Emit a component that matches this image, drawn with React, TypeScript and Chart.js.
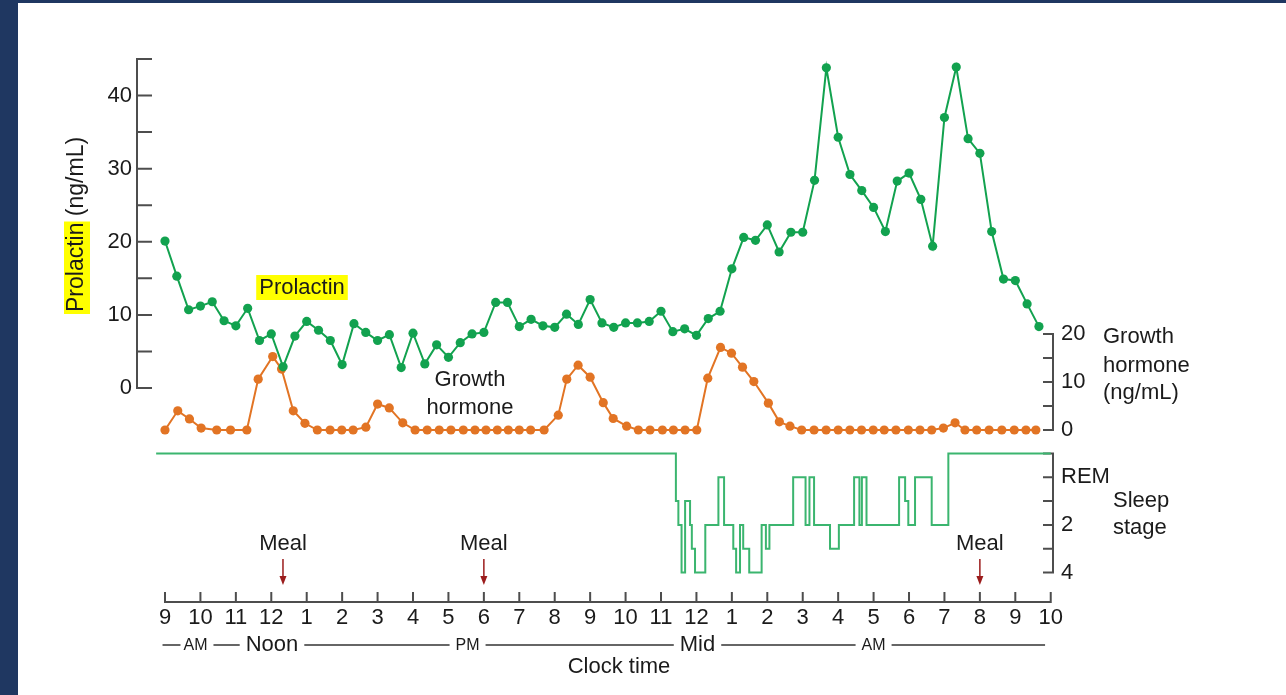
import React, { useEffect, useRef } from 'react';
import { Chart, registerables } from 'chart.js';

Chart.register(...registerables);

// ---------------- data ----------------
const X_TICK_LABELS = ['9', '10', '11', '12', '1', '2', '3', '4', '5', '6', '7', '8', '9', '10', '11', '12', '1', '2', '3', '4', '5', '6', '7', '8', '9', '10'];
const X_FIRST_HOUR = 9; // 9 AM, hours counted from midnight of day 1

// Prolactin sampled every 20 min from 9 AM
const PROLACTIN_START_HOUR = 9;
const PROLACTIN_STEP_HOURS = 1 / 3;
const PROLACTIN = [20.1, 15.3, 10.7, 11.2, 11.8, 9.2, 8.5, 10.9, 6.5, 7.4, 2.9, 7.1, 9.1, 7.9, 6.5, 3.2, 8.8, 7.6, 6.5, 7.3, 2.8, 7.5, 3.3, 5.9, 4.2, 6.2, 7.4, 7.6, 11.7, 11.7, 8.4, 9.4, 8.5, 8.3, 10.1, 8.7, 12.1, 8.9, 8.3, 8.9, 8.9, 9.1, 10.5, 7.7, 8.1, 7.2, 9.5, 10.5, 16.3, 20.6, 20.2, 22.3, 18.6, 21.3, 21.3, 28.4, 43.8, 34.3, 29.2, 27.0, 24.7, 21.4, 28.3, 29.4, 25.8, 19.4, 37.0, 43.9, 34.1, 32.1, 21.4, 14.9, 14.7, 11.5, 8.4];

const GH_TIMES = [9.00, 9.36, 9.69, 10.02, 10.46, 10.85, 11.31, 11.63, 12.04, 12.29, 12.62, 12.95, 13.30, 13.66, 13.99, 14.31, 14.67, 15.00, 15.33, 15.71, 16.06, 16.40, 16.74, 17.07, 17.42, 17.75, 18.06, 18.38, 18.69, 19.00, 19.32, 19.70, 20.10, 20.34, 20.66, 21.00, 21.37, 21.65, 22.03, 22.36, 22.69, 23.04, 23.35, 23.68, 24.01, 24.32, 24.68, 24.99, 25.30, 25.62, 26.03, 26.34, 26.64, 26.97, 27.32, 27.66, 28.00, 28.33, 28.66, 28.99, 29.30, 29.63, 29.98, 30.31, 30.64, 30.97, 31.30, 31.58, 31.91, 32.26, 32.62, 32.97, 33.30, 33.58];
const GH_VALUES = [0, 4.0, 2.3, 0.4, 0, 0, 0, 10.6, 15.3, 12.7,
  4.0, 1.4, 0, 0, 0, 0, 0.6, 5.4, 4.6, 1.5,
  0, 0, 0, 0, 0, 0, 0, 0, 0, 0,
  0, 0, 3.1, 10.6, 13.5, 11.0, 5.7, 2.4, 0.8, 0,
  0, 0, 0, 0, 0, 10.8, 17.2, 16.0, 13.1, 10.1,
  5.6, 1.7, 0.8, 0, 0, 0, 0, 0, 0, 0,
  0, 0, 0, 0, 0, 0.4, 1.5, 0, 0, 0,
  0, 0, 0, 0];

// Sleep stage: each stage holds from its time until the next time
const SLEEP_TIMES = [8.75, 23.42, 23.49, 23.58, 23.68, 23.82, 23.87, 23.96, 24.25, 24.62, 24.78, 25.04, 25.12, 25.23, 25.32, 25.49, 25.84, 25.96, 26.06, 26.73, 27.08, 27.19, 27.32, 27.77, 28.02, 28.45, 28.60, 28.67, 28.80, 29.72, 29.89, 29.98, 30.17, 30.64, 31.11, 34.0];
const SLEEP_STAGES = ['W', '1', '2', '4', '1', '2', '3', '4', '2', 'REM', '2', '3', '4', '2', '3', '4', '2', '3', '2', 'REM', '2', 'REM', '2', '3', '2', 'REM', '2', 'REM', '2', 'REM', '1', '2', 'REM', '2', 'W', 'W'];
const STAGE_ORDER = ['W', 'REM', '1', '2', '3', '4'];
const STAGE_TICK_LABELS = ['', 'REM', '', '2', '', '4'];

const PROLACTIN_TICKS = [0, 5, 10, 15, 20, 25, 30, 35, 40, 45];
const GH_TICKS = [0, 5, 10, 15, 20];

const MEAL_HOURS = [12.33, 18, 32];
const PERIOD_TEXT = ['AM', 'Noon', 'PM', 'Mid', 'AM'];
const PERIOD_HOURS = [9.86, 12.02, 17.54, 24.03, 29.0];

// ---------------- style ----------------
const FONT = "'Liberation Sans', Arial, Helvetica, sans-serif";
const TEXT = '#1b1b1b';
const AXIS = '#4d4d4d';
const GREEN = '#12a24f';
const ORANGE = '#e27424';
const SLEEP_GREEN = '#3bb56f';
const NAVY = '#1f3761';
const MEAL_RED = '#9b1c1c';

const stageValue = (s: string) => STAGE_ORDER.indexOf(s) - 1; // W=-1, REM=0, 1..4

const decorPlugin = {
  id: 'decor',
  beforeDatasetsDraw(chart: any) {
    const { ctx, chartArea } = chart;
    const sx = chart.scales.x;
    const sp = chart.scales.yP;
    const sg = chart.scales.yGH;
    const ss = chart.scales.yS;
    ctx.save();
    ctx.strokeStyle = AXIS;
    ctx.lineWidth = 2;
    ctx.lineCap = 'butt';

    // left prolactin axis, ticks pointing inward
    const lx = chartArea.left;
    const pp = sp.ticks.map((t: any) => sp.getPixelForValue(t.value));
    ctx.beginPath();
    ctx.moveTo(lx, Math.max(...pp) + 1);
    ctx.lineTo(lx, Math.min(...pp) - 1);
    pp.forEach((p: number) => { ctx.moveTo(lx, p); ctx.lineTo(lx + 15, p); });
    ctx.stroke();

    // right GH axis
    const rx = chartArea.right;
    const gp = sg.ticks.map((t: any) => sg.getPixelForValue(t.value));
    ctx.beginPath();
    ctx.moveTo(rx, Math.max(...gp) + 1);
    ctx.lineTo(rx, Math.min(...gp) - 1);
    gp.forEach((p: number) => { ctx.moveTo(rx, p); ctx.lineTo(rx - 10, p); });
    ctx.stroke();

    // sleep stage axis
    const spx = ss.ticks.map((t: any) => ss.getPixelForValue(t.value));
    ctx.beginPath();
    ctx.moveTo(rx, Math.max(...spx) + 1);
    ctx.lineTo(rx, Math.min(...spx) - 1);
    spx.forEach((p: number) => { ctx.moveTo(rx, p); ctx.lineTo(rx - 10, p); });
    ctx.stroke();

    // x axis, ticks pointing up
    const by = chartArea.bottom;
    const xp = sx.ticks.map((t: any) => sx.getPixelForValue(t.value));
    ctx.beginPath();
    ctx.moveTo(Math.min(...xp) - 1, by);
    ctx.lineTo(Math.max(...xp) + 1, by);
    xp.forEach((p: number) => { ctx.moveTo(p, by); ctx.lineTo(p, by - 10); });
    ctx.stroke();
    ctx.restore();
  },
  afterDraw(chart: any) {
    const { ctx } = chart;
    const sx = chart.scales.x;
    ctx.save();
    ctx.fillStyle = TEXT;
    ctx.textBaseline = 'middle';

    // y-axis title (rotated) with highlighted "Prolactin"
    ctx.save();
    ctx.font = `23px ${FONT}`;
    ctx.translate(77, 312);
    ctx.rotate(-Math.PI / 2);
    ctx.textAlign = 'left';
    const w1 = ctx.measureText('Prolactin').width;
    ctx.fillStyle = '#ffff00';
    ctx.fillRect(-2, -13, w1 + 3, 26);
    ctx.fillStyle = TEXT;
    ctx.fillText('Prolactin', 0, 0);
    ctx.fillText(' (ng/mL)', w1, 0);
    ctx.restore();

    ctx.font = `22px ${FONT}`;
    // in-plot label "Prolactin"
    ctx.textAlign = 'center';
    const w2 = ctx.measureText('Prolactin').width;
    ctx.fillStyle = '#ffff00';
    ctx.fillRect(302 - w2 / 2 - 3, 275, w2 + 6, 25);
    ctx.fillStyle = TEXT;
    ctx.fillText('Prolactin', 302, 288);

    // in-plot label "Growth hormone"
    ctx.fillText('Growth', 470, 380);
    ctx.fillText('hormone', 470, 408);

    // right side labels
    ctx.textAlign = 'left';
    ctx.fillText('Growth', 1103, 337);
    ctx.fillText('hormone', 1103, 366);
    ctx.fillText('(ng/mL)', 1103, 393);
    ctx.fillText('Sleep', 1113, 501);
    ctx.fillText('stage', 1113, 528);

    // meals
    MEAL_HOURS.forEach((h) => {
      const x = sx.getPixelForValue(h);
      ctx.fillStyle = TEXT;
      ctx.textAlign = 'center';
      ctx.fillText('Meal', x, 544);
      ctx.strokeStyle = MEAL_RED;
      ctx.fillStyle = MEAL_RED;
      ctx.lineWidth = 1.5;
      ctx.beginPath();
      ctx.moveTo(x, 559);
      ctx.lineTo(x, 578);
      ctx.stroke();
      ctx.beginPath();
      ctx.moveTo(x - 3.5, 576);
      ctx.lineTo(x + 3.5, 576);
      ctx.lineTo(x, 585);
      ctx.closePath();
      ctx.fill();
    });

    // period row
    const rowY = 645;
    const spans: [number, number][] = [];
    PERIOD_TEXT.forEach((t, i) => {
      const small = t === 'AM' || t === 'PM';
      ctx.font = `${small ? 16 : 22}px ${FONT}`;
      const cx = sx.getPixelForValue(PERIOD_HOURS[i]);
      const w = ctx.measureText(t).width;
      ctx.fillStyle = TEXT;
      ctx.textAlign = 'center';
      ctx.fillText(t, cx, small ? rowY + 1 : rowY);
      spans.push([cx - w / 2, cx + w / 2]);
    });
    ctx.strokeStyle = '#666';
    ctx.lineWidth = 2;
    ctx.beginPath();
    let prev = sx.getPixelForValue(8.93);
    spans.forEach(([a, b], i) => {
      ctx.moveTo(prev, rowY);
      ctx.lineTo(a - (i === 0 ? 3 : 6), rowY);
      prev = b + 6;
    });
    ctx.moveTo(prev, rowY);
    ctx.lineTo(sx.getPixelForValue(33.84), rowY);
    ctx.stroke();

    ctx.font = `22px ${FONT}`;
    ctx.fillStyle = TEXT;
    ctx.textAlign = 'center';
    ctx.fillText('Clock time', 619, 667);
    ctx.restore();
  },
};

const tickFont = { family: FONT, size: 22 };

export default function App() {
  const ref = useRef<HTMLCanvasElement>(null);

  useEffect(() => {
    if (!ref.current) return;
    const prolactinData = PROLACTIN.map((v, i) => ({ x: PROLACTIN_START_HOUR + i * PROLACTIN_STEP_HOURS, y: v }));
    const ghData = GH_TIMES.map((t, i) => ({ x: t, y: GH_VALUES[i] }));
    const sleepData = SLEEP_TIMES.map((t, i) => ({ x: t, y: stageValue(SLEEP_STAGES[i]) }));

    // widest sleep-stage label, so the mirrored labels start just right of the axis
    const mctx = document.createElement('canvas').getContext('2d')!;
    mctx.font = `22px ${FONT}`;
    const widestStage = Math.max(...STAGE_TICK_LABELS.map((l) => mctx.measureText(l).width));

    const chart = new Chart(ref.current, {
      type: 'line',
      data: {
        datasets: [
          {
            label: 'Prolactin',
            data: prolactinData,
            yAxisID: 'yP',
            borderColor: GREEN,
            backgroundColor: GREEN,
            pointBackgroundColor: GREEN,
            pointBorderWidth: 0,
            pointRadius: 4.6,
            borderWidth: 2,
            tension: 0,
          },
          {
            label: 'Growth hormone',
            data: ghData,
            yAxisID: 'yGH',
            borderColor: ORANGE,
            backgroundColor: ORANGE,
            pointBackgroundColor: ORANGE,
            pointBorderWidth: 0,
            pointRadius: 4.6,
            borderWidth: 2,
            tension: 0,
          },
          {
            label: 'Sleep stage',
            data: sleepData,
            yAxisID: 'yS',
            borderColor: SLEEP_GREEN,
            borderWidth: 2,
            pointRadius: 0,
            stepped: 'before',
          },
        ],
      },
      options: {
        responsive: false,
        maintainAspectRatio: false,
        devicePixelRatio: 1,
        animation: false,
        events: [],
        layout: { padding: { top: 59, left: 0, right: 0, bottom: 0 } },
        plugins: { legend: { display: false }, tooltip: { enabled: false } },
        scales: {
          x: {
            type: 'linear',
            position: 'bottom',
            min: 8.2097,
            max: 34.064,
            afterBuildTicks: (s: any) => { s.ticks = X_TICK_LABELS.map((_, i) => ({ value: X_FIRST_HOUR + i })); },
            afterFit: (s: any) => { s.height = 93; },
            grid: { display: false, drawTicks: false },
            border: { display: false },
            ticks: {
              autoSkip: false, maxRotation: 0, minRotation: 0, padding: 3,
              color: TEXT, font: tickFont,
              callback: (_v: any, i: number) => X_TICK_LABELS[i],
            },
          },
          yP: {
            type: 'linear',
            position: 'left',
            min: -29.27,
            max: 45,
            afterBuildTicks: (s: any) => { s.ticks = PROLACTIN_TICKS.map((v) => ({ value: v })); },
            afterFit: (s: any) => { s.width = 137; },
            grid: { display: false, drawTicks: false },
            border: { display: false },
            ticks: {
              padding: 5, color: TEXT, font: tickFont,
              callback: (v: any) => (Number(v) % 10 === 0 ? String(v) : ''),
            },
          },
          yS: {
            type: 'linear',
            position: 'right',
            weight: 0,
            reverse: true,
            min: -17.575,
            max: 5.239,
            afterBuildTicks: (s: any) => { s.ticks = STAGE_ORDER.map((_, i) => ({ value: i - 1 })); },
            afterFit: (s: any) => { s.width = 0; s.paddingTop = 0; s.paddingBottom = 0; },
            grid: { display: false, drawTicks: false },
            border: { display: false },
            ticks: {
              mirror: true, crossAlign: 'far', padding: 8 + widestStage,
              autoSkip: false, color: TEXT, font: tickFont,
              callback: (_v: any, i: number) => STAGE_TICK_LABELS[i],
            },
          },
          yGH: {
            type: 'linear',
            position: 'right',
            weight: 1,
            min: -35.83,
            max: 77.29,
            afterBuildTicks: (s: any) => { s.ticks = GH_TICKS.map((v) => ({ value: v })); },
            afterFit: (s: any) => { s.width = 233; },
            grid: { display: false, drawTicks: false },
            border: { display: false },
            ticks: {
              padding: 8, color: TEXT, font: tickFont,
              callback: (v: any) => (Number(v) % 10 === 0 ? String(v) : ''),
            },
          },
        },
      },
      plugins: [decorPlugin],
    } as any);
    return () => chart.destroy();
  }, []);

  return (
    <div style={{ position: 'fixed', left: 0, top: 0, width: 1286, height: 695, background: NAVY, overflow: 'hidden' }}>
      <div style={{ position: 'absolute', left: 18, top: 3, right: 0, bottom: 0, background: '#ffffff' }} />
      <canvas ref={ref} width={1286} height={695} style={{ position: 'absolute', left: 0, top: 0, width: 1286, height: 695 }} />
    </div>
  );
}
